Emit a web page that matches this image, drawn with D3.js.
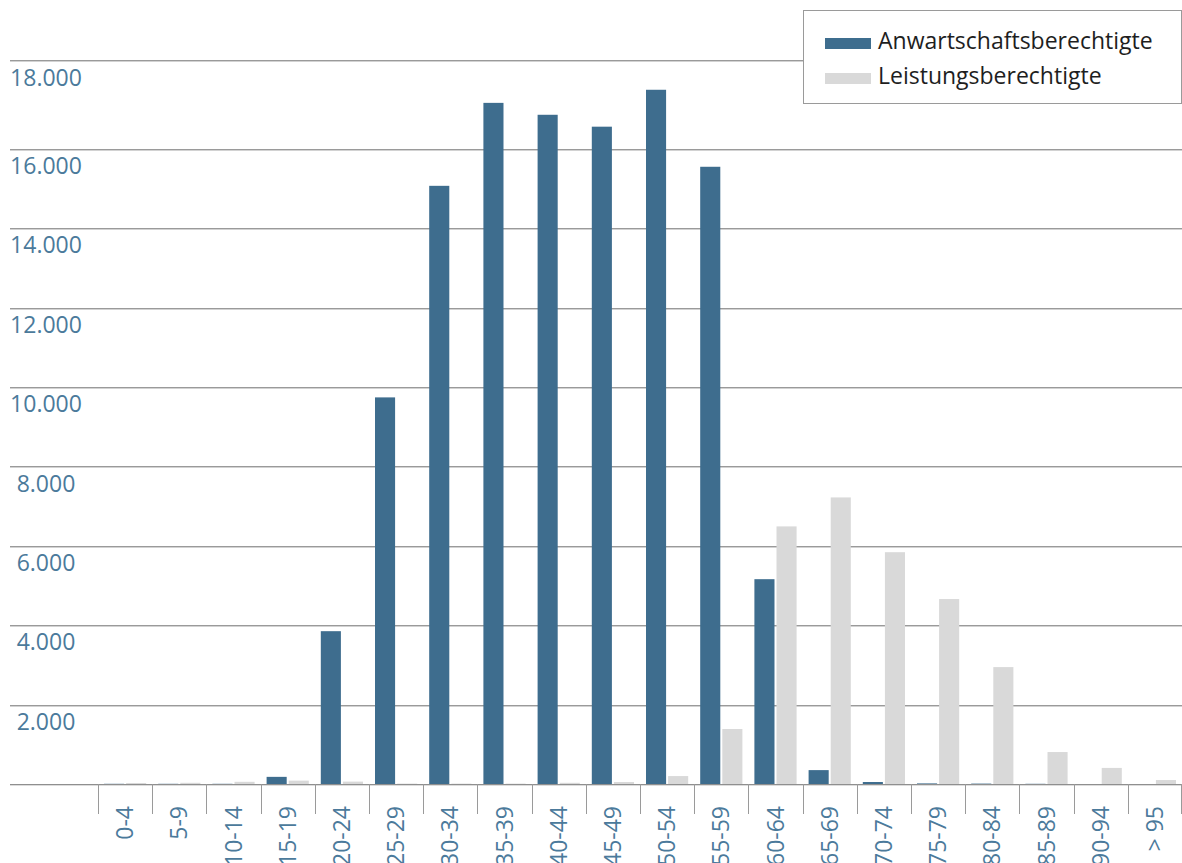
<!DOCTYPE html>
<html>
<head>
<meta charset="utf-8">
<script src="https://cdn.jsdelivr.net/npm/d3@7/dist/d3.min.js"></script>
<style>
  html, body { margin: 0; padding: 0; background: #fff; }
  svg { display: block; font-family: "Open Sans", "Noto Sans", sans-serif; }
</style>
</head>
<body>
<svg id="chart" width="1182" height="863"></svg>
<script>
const categories = ["0-4","5-9","10-14","15-19","20-24","25-29","30-34","35-39","40-44","45-49","50-54","55-59","60-64","65-69","70-74","75-79","80-84","85-89","90-94","> 95"];
const seriesNames = ["Anwartschaftsberechtigte","Leistungsberechtigte"];
const anwartschaft = [5, 5, 5, 180, 3850, 9740, 15070, 17160, 16860, 16560, 17490, 15550, 5160, 350, 50, 15, 10, 5, 0, 0];
const leistung = [25, 30, 55, 85, 60, 10, 10, 10, 30, 50, 200, 1385, 6490, 7220, 5840, 4660, 2945, 805, 405, 100];
const tickValues = [2000, 4000, 6000, 8000, 10000, 12000, 14000, 16000];
const axisMax = 18240;
const axisMaxLabel = "18.000";

const colors = ["#3e6d8e", "#d9d9d9"];
const labelColor = "#4b7a9b";

const svg = d3.select("#chart");
const baseY = 784, topY = 60, gridLeft = 10, gridRight = 1182;

const x = d3.scaleBand().domain(categories).range([98, 1182]).paddingInner(0).paddingOuter(0);
const xs = d3.scaleBand().domain(seriesNames).range([6, x.bandwidth() - 6]).paddingInner(1/11).paddingOuter(0);
const y = d3.scaleLinear().domain([0, axisMax]).range([baseY, topY]);

const fmt = v => d3.format(",")(v).replace(/,/g, ".");

// gridlines
const gridVals = tickValues.concat([axisMax]);
const grid = svg.append("g");
gridVals.forEach(v => {
  const yy = Math.round(y(v)) + 0.5;
  grid.append("line").attr("x1", gridLeft).attr("x2", gridRight).attr("y1", yy).attr("y2", yy)
    .attr("stroke", "#9a9a9a").attr("stroke-width", 1);
  grid.append("line").attr("x1", gridLeft).attr("x2", gridRight).attr("y1", yy + 1).attr("y2", yy + 1)
    .attr("stroke", "#d2d2d2").attr("stroke-width", 1);
});

// y labels
const ylab = svg.append("g").attr("fill", labelColor).attr("font-size", 23).attr("text-anchor", "middle");
tickValues.forEach(v => {
  ylab.append("text").attr("x", 46).attr("y", y(v) + 17).attr("dy", "0.35em").text(fmt(v));
});
ylab.append("text").attr("x", 46).attr("y", y(axisMax) + 18).attr("dy", "0.35em").text(axisMaxLabel);

// bars
const data = categories.map((c, i) => ({ cat: c, vals: [anwartschaft[i], leistung[i]] }));
const groups = svg.append("g").selectAll("g").data(data).join("g")
  .attr("transform", d => `translate(${x(d.cat)},0)`);
groups.selectAll("rect").data(d => d.vals.map((v, j) => ({ v, s: seriesNames[j], j })))
  .join("rect")
  .attr("x", d => xs(d.s))
  .attr("width", xs.bandwidth())
  .attr("y", d => y(d.v))
  .attr("height", d => baseY - y(d.v))
  .attr("fill", d => colors[d.j]);

// baseline
svg.append("line").attr("x1", gridLeft).attr("x2", gridRight).attr("y1", baseY + 0.5).attr("y2", baseY + 0.5)
  .attr("stroke", "#8f8f8f").attr("stroke-width", 1);
svg.append("line").attr("x1", gridLeft).attr("x2", gridRight).attr("y1", baseY + 1.5).attr("y2", baseY + 1.5)
  .attr("stroke", "#dcdcdc").attr("stroke-width", 1);

// x ticks (category separators)
const tickG = svg.append("g");
categories.forEach(c => {
  const xx = Math.round(x(c)) + 0.5;
  tickG.append("line").attr("x1", xx).attr("x2", xx).attr("y1", baseY).attr("y2", 814)
    .attr("stroke", "#9a9a9a").attr("stroke-width", 1);
});
{
  const xx = Math.round(x.range()[1]) - 0.5;
  tickG.append("line").attr("x1", xx).attr("x2", xx).attr("y1", baseY).attr("y2", 814)
    .attr("stroke", "#9a9a9a").attr("stroke-width", 1);
}

// x labels
const xlab = svg.append("g").attr("fill", labelColor).attr("font-size", 23).attr("text-anchor", "end");
categories.forEach(c => {
  const cx = x(c) + x.bandwidth() / 2;
  xlab.append("text").attr("transform", `translate(${cx},806) rotate(-90)`).attr("dy", "0.35em").text(c);
});

// legend
const lg = svg.append("g");
lg.append("rect").attr("x", 803.5).attr("y", 10.5).attr("width", 378).attr("height", 93)
  .attr("fill", "#fff").attr("stroke", "#9a9a9a").attr("stroke-width", 1);
seriesNames.forEach((s, i) => {
  const base = 49 + i * 35;
  lg.append("rect").attr("x", 825).attr("y", base - 11).attr("width", 46).attr("height", 11).attr("fill", colors[i]);
  lg.append("text").attr("x", 878).attr("y", base).attr("font-size", 23)
    .attr("fill", "#1e1e1e").text(s);
});
</script>
</body>
</html>
